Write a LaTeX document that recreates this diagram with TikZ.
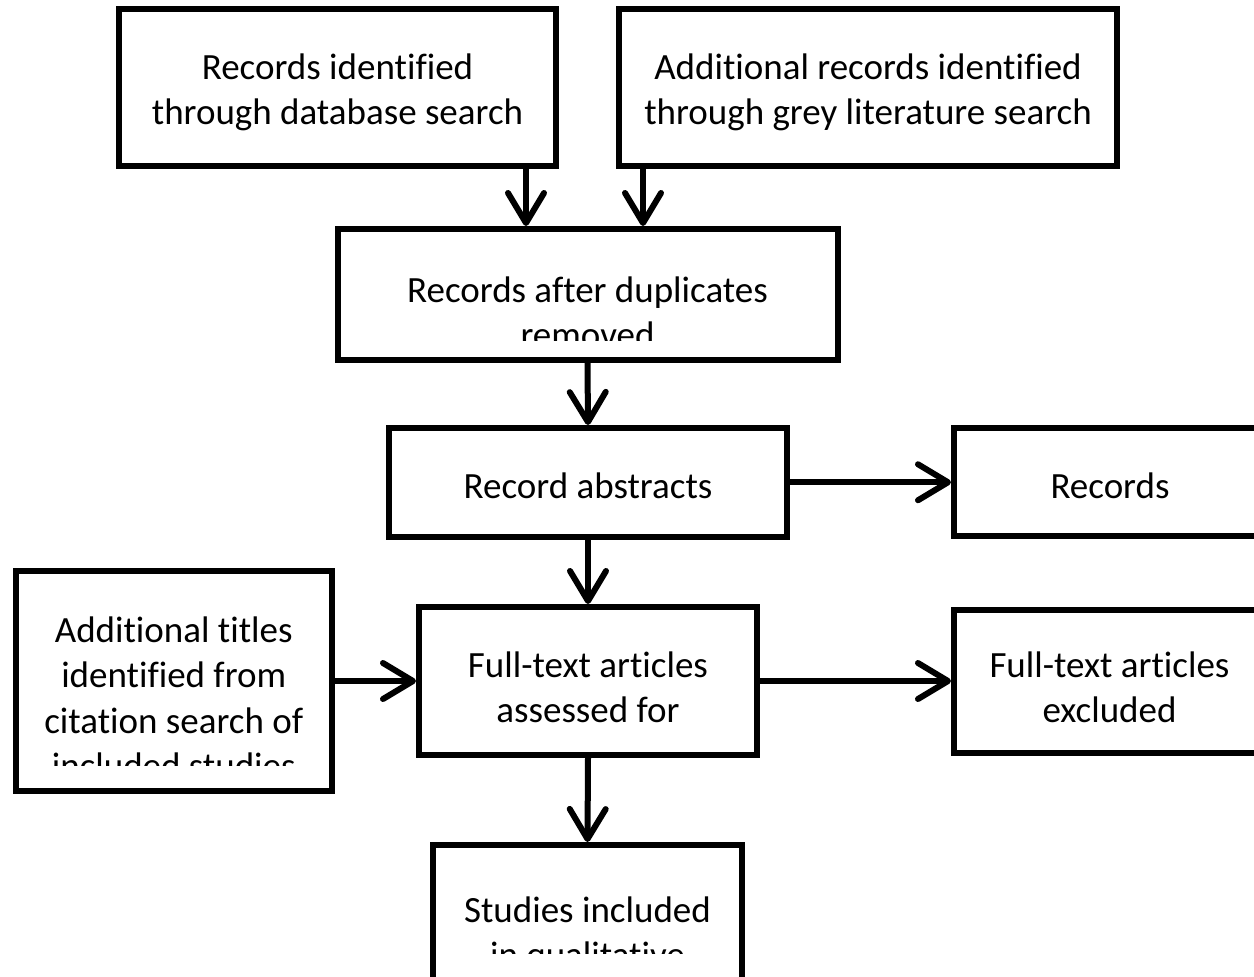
\documentclass[tikz,border=0pt]{standalone}
\usepackage{fontspec}
\setmainfont[Ligatures={NoCommon}]{Carlito}
\usetikzlibrary{arrows.meta}
\newcommand{\zk}{\kern0pt}
\begin{document}
\begin{tikzpicture}[x=1pt,y=-1pt,
  box/.style={draw=black, line width=6pt, fill=white, rectangle, inner sep=0pt},
  txt/.style={anchor=base, inner sep=0pt, font=\fontsize{37}{45.5}\selectfont},
  arr/.style={line width=6pt, -{Straight Barb[length=30pt, width=36pt, line cap=round, line join=round]}}
]
\useasboundingbox (0,0) rectangle (1254,977);
\fill[white] (0,0) rectangle (1254,977);
\clip (0,0) rectangle (1254,977);

% boxes
\node[box, minimum width=437pt, minimum height=157pt] (db) at (337.5,87) {};
\node[box, minimum width=498pt, minimum height=157pt] (grey) at (868,87) {};
\node[box, minimum width=500pt, minimum height=131pt] (dupes) at (587.5,294.5) {};
\node[box, minimum width=398pt, minimum height=108.5pt] (abs) at (588,482.25) {};
\node[box, minimum width=312pt, minimum height=108pt] (rec) at (1110,482.25) {};
\node[box, minimum width=315.5pt, minimum height=220pt] (titles) at (173.75,681) {};
\node[box, minimum width=338pt, minimum height=148pt] (full) at (588,681) {};
\node[box, minimum width=311pt, minimum height=143pt] (excl) at (1109.5,681) {};
\node[box, minimum width=309pt, minimum height=155pt] (stud) at (587.5,922.5) {};

% texts
\node[txt] (tdb) at (337.5,79) {\begin{tabular}[t]{@{}c@{}}Records ident\zk if\zk ied\\through database search\end{tabular}};
\node[txt] (tgrey) at (868,79) {\begin{tabular}[t]{@{}c@{}}Addit\zk ional records ident\zk if\zk ied\\through grey literature search\end{tabular}};
\begin{scope}
  \clip (345,236) rectangle (830,340);
  \node[txt] (tdupes) at (587.5,302) {\begin{tabular}[t]{@{}c@{}}Records af\zk ter duplicates\\removed\end{tabular}};
\end{scope}
\node[txt] (tabs) at (588,498) {Record abstracts};
\node[txt] (trec) at (1110,498) {Records};
\begin{scope}
  \clip (22,576) rectangle (326,765);
  \node[txt] (ttitles) at (173.75,642) {\begin{tabular}[t]{@{}c@{}}Addit\zk ional t\zk itles\\ident\zk if\zk ied from\\citat\zk ion search of\\included studies\end{tabular}};
\end{scope}
\node[txt] (tfull) at (588,677) {\begin{tabular}[t]{@{}c@{}}Full-text art\zk icles\\assessed for\end{tabular}};
\node[txt] (texcl) at (1109.5,677) {\begin{tabular}[t]{@{}c@{}}Full-text art\zk icles\\excluded\end{tabular}};
\begin{scope}
  \clip (439,851) rectangle (736,953);
  \node[txt] (tstud) at (587.5,922) {\begin{tabular}[t]{@{}c@{}}Studies included\\in qualitat\zk ive\end{tabular}};
\end{scope}

% connectors
\coordinate (xa) at (526,0);
\coordinate (xb) at (643,0);
\draw[arr] (db.south -| xa) -- (dupes.north -| xa);
\draw[arr] (grey.south -| xb) -- (dupes.north -| xb);
\draw[arr] (dupes.south) -- (abs.north);
\draw[arr] (abs.east) -- (rec.west);
\draw[arr] (abs.south) -- (full.north);
\draw[arr] (titles.east) -- (full.west);
\draw[arr] (full.east) -- (excl.west);
\draw[arr] (full.south) -- (stud.north);
\end{tikzpicture}
\end{document}
